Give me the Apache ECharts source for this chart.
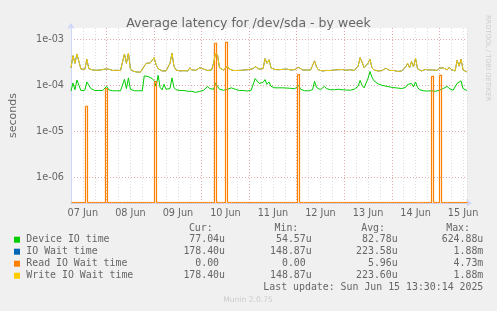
<!DOCTYPE html>
<html><head><meta charset="utf-8">
<script src="https://cdn.jsdelivr.net/npm/echarts@6/dist/echarts.min.js"></script>
<style>html,body{margin:0;padding:0;background:#f0f0f0}#c{width:497px;height:311px}</style>
</head><body><div id="c"></div>
<script>
// x = hours since 07 Jun 00:00; one value per hour starting at START_HOUR
const START_HOUR = 6;
const dayLabels = ['07 Jun','08 Jun','09 Jun','10 Jun','11 Jun','12 Jun','13 Jun','14 Jun','15 Jun'];
const yTickLabels = {'-6':'1e-06','-5':'1e-05','-4':'1e-04','-3':'1e-03'};

// values in microseconds
const deviceIO = [
75,112,80,130,100,77,76,78,118,100,
85,80,77,76,77,76,77,78,95,80,
77,76,77,76,77,76,77,135,85,145,
82,77,76,77,76,77,76,160,170,155,
150,140,125,95,165,90,80,105,82,80,
85,145,90,80,78,77,76,77,75,74,
76,74,72,70,72,74,76,78,82,95,
85,80,82,112,95,82,80,78,80,82,
80,88,95,82,78,77,76,77,76,75,
76,78,85,140,130,110,100,115,133,105,
118,95,90,88,86,88,95,88,86,87,
85,86,85,84,90,99,82,78,76,77,
76,78,80,122,90,82,80,83,95,85,
82,80,84,80,81,82,85,80,78,79,
80,78,80,82,85,95,127,100,88,85,
140,200,150,125,115,108,104,100,98,96,
94,92,90,89,88,87,86,85,84,90,
104,95,110,92,118,90,80,78,76,77,
75,74,76,75,74,76,78,80,85,82,
95,85,80,78,80,110,100,125,85,78,
77];

const ioWait = [
239,440,300,480,330,225,215,222,370,230,
218,215,220,212,218,215,212,225,245,225,
215,210,215,212,218,210,215,480,300,500,
230,205,200,195,198,192,200,260,300,295,
305,330,400,280,230,215,205,210,205,220,
300,500,260,215,210,205,212,208,210,205,
240,215,210,212,218,240,250,225,215,210,
220,215,300,500,450,240,220,215,215,260,
225,215,210,205,210,215,212,208,215,210,
220,215,230,255,245,225,220,230,380,300,
360,240,225,220,230,218,225,222,218,225,
220,215,222,220,228,245,225,215,218,215,
220,215,225,340,250,215,210,205,212,210,
205,210,232,215,212,218,210,220,215,212,
210,218,215,210,220,260,400,320,240,225,
300,370,240,215,210,205,210,208,205,235,
215,210,205,210,205,200,210,205,215,250,
300,240,330,250,390,230,210,205,215,220,
240,215,210,215,220,210,235,215,240,220,
215,245,220,210,205,350,260,370,215,200,
195];

const readIOWait = [
0,0,0,0,0,0,0,35,0,0,
0,0,0,0,0,0,0,85,0,0,
0,0,0,0,0,0,0,0,0,0,
0,0,0,0,0,0,0,0,0,0,
0,0,120,0,0,0,0,0,0,0,
0,0,0,0,0,0,0,0,0,0,
0,0,0,0,0,0,0,0,0,0,
0,0,820,0,0,0,0,0,860,0,
0,0,0,0,0,0,0,0,0,0,
0,0,0,0,0,0,0,0,0,0,
0,0,0,0,0,0,0,0,0,0,
0,0,0,0,170,0,0,0,0,0,
0,0,0,0,0,0,0,0,0,0,
0,0,0,0,0,0,0,0,0,0,
0,0,0,0,0,0,0,0,0,0,
0,0,0,0,0,0,0,0,0,0,
0,0,0,0,0,0,0,0,0,0,
0,0,0,0,0,0,0,0,0,0,
0,0,157,0,0,0,165,0,0,0,
0,0,0,0,0,0,0,0,0,0,
0];

const writeIOWait = [
239,440,300,480,330,225,215,222,370,230,
218,215,220,212,218,215,212,225,245,225,
215,210,215,212,218,210,215,480,300,500,
230,205,200,195,198,192,200,260,300,295,
305,330,400,280,230,215,205,210,205,220,
300,500,260,215,210,205,212,208,210,205,
240,215,210,212,218,240,250,225,215,210,
220,215,300,500,450,240,220,215,215,260,
225,215,210,205,210,215,212,208,215,210,
220,215,230,255,245,225,220,230,380,300,
360,240,225,220,230,218,225,222,218,225,
220,215,222,220,228,245,225,215,218,215,
220,215,225,340,250,215,210,205,212,210,
205,210,232,215,212,218,210,220,215,212,
210,218,215,210,220,260,400,320,240,225,
300,370,240,215,210,205,210,208,205,235,
215,210,205,210,205,200,210,205,215,250,
300,240,330,250,390,230,210,205,215,220,
240,215,210,215,220,210,235,215,240,220,
215,245,220,210,205,350,260,370,215,200,
195];

const legendNames = ['Device IO time','IO Wait time','Read IO Wait time','Write IO Wait time'];
const legendColors = ['#00cc00','#0066b3','#ff8000','#ffcc00'];
const curVals = ['77.04u','178.40u','0.00 ','178.40u'];
const minVals = ['54.57u','148.87u','0.00 ','148.87u'];
const avgVals = ['82.78u','223.58u','5.96u','223.60u'];
const maxVals = ['624.88u','1.88m','4.73m','1.88m'];
const lastUpdate = 'Last update: Sun Jun 15 13:30:14 2025';

const Y_MIN = 2.76e-7, Y_MAX = 1.76e-3;
const toPairs = arr => arr.map((v, i) => [START_HOUR + i, v * 1e-6]);

const minorY = [];
for (let e = -7; e <= -3; e++) for (let k = 2; k <= 9; k++) { const v = k * Math.pow(10, e); if (v > Y_MIN && v < Y_MAX) minorY.push(v); }

const FONT = 'DejaVu Sans', MONO = 'DejaVu Sans Mono', FC = '#666';
const GRAY = '#dcdcdc', RED = '#e6a8a8';

const graphic = [];
const rowY = [239.7, 251.7, 263.7, 275.7];
const cols = [[curVals, 225, 'Cur:', 212.7], [minVals, 311.7, 'Min:', 298.3], [avgVals, 397.7, 'Avg:', 385], [maxVals, 483.3, 'Max:', 470]];
cols.forEach(c => graphic.push({type:'text', x:c[3], y:228, style:{text:c[2], font:'9.9px ' + MONO, fill:FC, align:'right', verticalAlign:'middle'}}));
legendNames.forEach((n, i) => {
  graphic.push({type:'rect', shape:{x:14, y:rowY[i]-3, width:6, height:6}, style:{fill:legendColors[i]}});
  graphic.push({type:'text', x:26.3, y:rowY[i], style:{text:n, font:'9.9px ' + MONO, fill:FC, align:'left', verticalAlign:'middle'}});
  cols.forEach(c => graphic.push({type:'text', x:c[1], y:rowY[i], style:{text:c[0][i], font:'9.9px ' + MONO, fill:FC, align:'right', verticalAlign:'middle'}}));
});
graphic.push({type:'text', x:483.3, y:287.3, style:{text:lastUpdate, font:'9.9px ' + MONO, fill:FC, align:'right', verticalAlign:'middle'}});
graphic.push({type:'text', x:248, y:300.3, style:{text:'Munin 2.0.75', font:'7.6px ' + FONT, fill:'#cccccc', align:'center', verticalAlign:'middle'}});
graphic.push({type:'text', x:488, y:58, rotation:-Math.PI/2, style:{text:'RRDTOOL / TOBI OETIKER', font:'6.7px ' + FONT, fill:'#cccccc', align:'center', verticalAlign:'middle'}});

const chart = echarts.init(document.getElementById('c'), null, {renderer:'canvas'});
chart.setOption({
  backgroundColor: '#f0f0f0',
  animation: false,
  title: {text:'Average latency for /dev/sda - by week', left:'center', top:12,
    textStyle:{fontFamily:FONT, fontSize:12.5, fontWeight:'normal', color:FC}},
  grid: {left:67, top:28, width:400, height:175, show:true, backgroundColor:'#ffffff', borderWidth:0},
  xAxis: {type:'value', min:6, max:206, interval:6,
    axisLine:{show:true, onZero:false, lineStyle:{color:'#cfd6f8'}, symbol:['none','arrow'], symbolSize:[6,6], symbolOffset:[0,5]},
    axisTick:{show:false},
    axisLabel:{margin:5, fontFamily:FONT, fontSize:9.7, color:FC,
      formatter: v => (v % 24 === 12) ? dayLabels[(v - 12) / 24] : ''},
    splitLine:{show:true, lineStyle:{color:[GRAY, GRAY, GRAY, RED], type:[1,2], width:1}}},
  yAxis: {type:'log', logBase:10, min:Y_MIN, max:Y_MAX,
    name:'seconds', nameLocation:'middle', nameGap:52,
    nameTextStyle:{fontFamily:FONT, fontSize:11, color:FC},
    axisLine:{show:true, lineStyle:{color:'#cfd6f8'}, symbol:['none','arrow'], symbolSize:[6,6], symbolOffset:[0,5]},
    axisTick:{show:false},
    axisLabel:{margin:7, fontFamily:FONT, fontSize:9.7, color:FC, showMinLabel:false, showMaxLabel:false,
      formatter: v => { const e = Math.log10(v), r = Math.round(e); return Math.abs(e - r) < 1e-6 && yTickLabels[r] ? yTickLabels[r] : ''; }},
    splitLine:{show:true, showMinLine:false, showMaxLine:false, lineStyle:{color:RED, type:[1,2], width:1}}},
  graphic: graphic,
  series: [
    {type:'line', data:[], z:1, silent:true,
      markLine:{silent:true, symbol:['none','none'], animation:false, label:{show:false},
        emphasis:{disabled:true},
        lineStyle:{color:GRAY, type:[1,2], width:1}, data: minorY.map(v => ({yAxis:v}))}},
    {name:legendNames[0], type:'line', data:toPairs(deviceIO), showSymbol:false, symbol:'none', z:3,
      lineStyle:{width:1, color:legendColors[0]}, itemStyle:{color:legendColors[0]}},
    {name:legendNames[1], type:'line', data:toPairs(ioWait), showSymbol:false, symbol:'none', z:4,
      lineStyle:{width:1, color:legendColors[1]}, itemStyle:{color:legendColors[1]}},
    {name:legendNames[2], type:'custom', data:toPairs(readIOWait), z:5, silent:true,
      encode:{x:0, y:1},
      renderItem: (params, api) => {
        const idx = params.dataIndexInside;
        if (idx >= params.dataInsideLength - 1) return;
        const cs = params.coordSys;
        const bottom = cs.y + cs.height - 0.5;
        const pt = (h, v) => { const p = api.coord([h, v > Y_MIN ? v : Y_MIN]); return [Math.round(p[0]) + 0.5, v > Y_MIN ? p[1] : bottom]; };
        const h0 = api.value(0, idx), v0 = api.value(1, idx);
        const h1 = api.value(0, idx + 1), v1 = api.value(1, idx + 1);
        return {type:'polyline', silent:true, shape:{points:[pt(h0, v0), pt(h1, v0), pt(h1, v1)]},
          style:{stroke:'#ff8000', lineWidth:1.2, fill:null, opacity:1}};
      }},
    {name:legendNames[3], type:'line', data:toPairs(writeIOWait), showSymbol:false, symbol:'none', z:6,
      lineStyle:{width:1, color:legendColors[3]}, itemStyle:{color:legendColors[3]}}
  ]
});
</script></body></html>
